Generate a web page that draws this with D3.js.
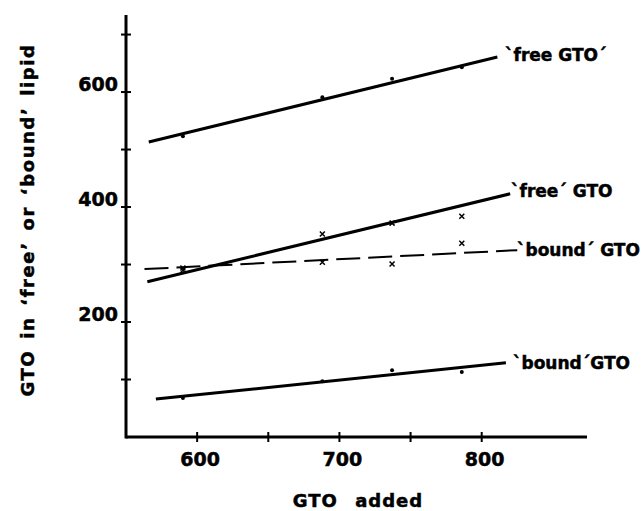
<!DOCTYPE html>
<html>
<head>
<meta charset="utf-8">
<script src="https://cdn.jsdelivr.net/npm/d3@7"></script>
<style>
  body { margin: 0; background: #fff; }
  text { font-family: "DejaVu Sans", sans-serif; font-weight: bold; fill: #000; stroke: #000; stroke-width: 0.5; }
</style>
</head>
<body>
<script>
// GTO added (x) for every measured point
var gtoAdded = [590, 688, 737, 786];

// measured values
var freeTop = [523, 591, 623, 643];     // dots, 'free GTO'
var freeMid = [294, 353, 372, 384];     // crosses, 'free' GTO
var boundMid = [290, 304, 301, 337];    // crosses, 'bound' GTO (dashed)
var boundLow = [68, 97, 116, 113];      // dots, 'bound' GTO

// drawn fit lines, end points
var fitFreeTop = [[566, 513], [811, 661]];
var fitFreeMid = [[565, 270], [820, 423]];
var fitBoundMid = [[563, 292], [825, 325]];
var fitBoundLow = [[571, 66], [817, 129]];

var xTicks = [600, 650, 700, 750, 800];
var xLabels = [600, 700, 800];
var yTicks = [100, 200, 300, 400, 500, 600, 700];
var yLabels = [200, 400, 600];

var svg = d3.select("body")
      .append("svg")
      .attr("width", 643)
      .attr("height", 511)

var x = d3.scaleLinear().domain([550, 874]).range([126, 587]);
var y = d3.scaleLinear().domain([0, 734]).range([437, 15]);

// axes
svg.append("line")
  .attr("x1", x(550)).attr("x2", x(874))
  .attr("y1", y(0)).attr("y2", y(0))
  .attr("stroke", "#000").attr("stroke-width", 3);
svg.append("line")
  .attr("x1", x(550)).attr("x2", x(550))
  .attr("y1", y(0) + 1.5).attr("y2", y(734))
  .attr("stroke", "#000").attr("stroke-width", 3);

svg.selectAll(".xt").data(xTicks).enter().append("line")
  .attr("x1", function(d){return x(d)}).attr("x2", function(d){return x(d)})
  .attr("y1", y(0) - 5).attr("y2", y(0) + 5)
  .attr("stroke", "#000").attr("stroke-width", 2);
svg.selectAll(".yt").data(yTicks).enter().append("line")
  .attr("x1", x(550) - 5).attr("x2", x(550) + 5)
  .attr("y1", function(d){return y(d)}).attr("y2", function(d){return y(d)})
  .attr("stroke", "#000").attr("stroke-width", 2);

svg.selectAll(".xl").data(xLabels).enter().append("text")
  .attr("x", function(d){return x(d) + 3})
  .attr("y", y(0) + 29)
  .attr("text-anchor", "middle")
  .attr("font-size", 19)
  .text(function(d){return d});
svg.selectAll(".yl").data(yLabels).enter().append("text")
  .attr("x", x(550) - 8)
  .attr("y", function(d){return y(d) - 1})
  .attr("text-anchor", "end")
  .attr("font-size", 19)
  .text(function(d){return d});

svg.append("text")
  .attr("x", 358).attr("y", 507)
  .attr("text-anchor", "middle")
  .attr("font-size", 18)
  .attr("letter-spacing", 1)
  .attr("word-spacing", 10)
  .text("GTO added");
svg.append("text")
  .attr("transform", "translate(34,220) rotate(-90)")
  .attr("text-anchor", "middle")
  .attr("font-size", 18)
  .attr("letter-spacing", 1.6)
  .attr("word-spacing", 3)
  .text("GTO in \u2018free\u2019 or \u2018bound\u2019 lipid");

// fit lines
var line = d3.line().x(function(d){return x(d[0])}).y(function(d){return y(d[1])});
[fitFreeTop, fitFreeMid, fitBoundLow].forEach(function(f) {
  svg.append("path").attr("d", line(f))
    .attr("fill", "none").attr("stroke", "#000").attr("stroke-width", 3);
});
svg.append("path").attr("d", line(fitBoundMid))
  .attr("fill", "none").attr("stroke", "#000").attr("stroke-width", 2)
  .attr("stroke-dasharray", "24,8");

// dots
[freeTop, boundLow].forEach(function(vals) {
  svg.append("g").selectAll("circle")
    .data(vals)
    .enter().append("circle")
    .attr("r", 2)
    .attr("cx", function(d, i){return x(gtoAdded[i])})
    .attr("cy", function(d){return y(d)});
});

// crosses
[freeMid, boundMid].forEach(function(vals) {
  svg.append("g").selectAll("path")
    .data(vals)
    .enter().append("path")
    .attr("d", function(d, i){
      var cx = x(gtoAdded[i]), cy = y(d);
      return "M" + (cx-2.5) + "," + (cy-2.5) + "L" + (cx+2.5) + "," + (cy+2.5) +
             "M" + (cx-2.5) + "," + (cy+2.5) + "L" + (cx+2.5) + "," + (cy-2.5);
    })
    .attr("stroke", "#000").attr("stroke-width", 1.5);
});

// curve labels
var labels = [
  {t: "`free GTO\u00b4", x: 505, y: 61},
  {t: "`free\u00b4 GTO", x: 511, y: 197},
  {t: "`bound\u00b4 GTO", x: 517, y: 256},
  {t: "`bound\u00b4GTO", x: 513, y: 369}
];
svg.selectAll(".lab").data(labels).enter().append("text")
  .attr("x", function(d){return d.x})
  .attr("y", function(d){return d.y})
  .attr("font-size", 17)
  .text(function(d){return d.t});
</script>
</body>
</html>
